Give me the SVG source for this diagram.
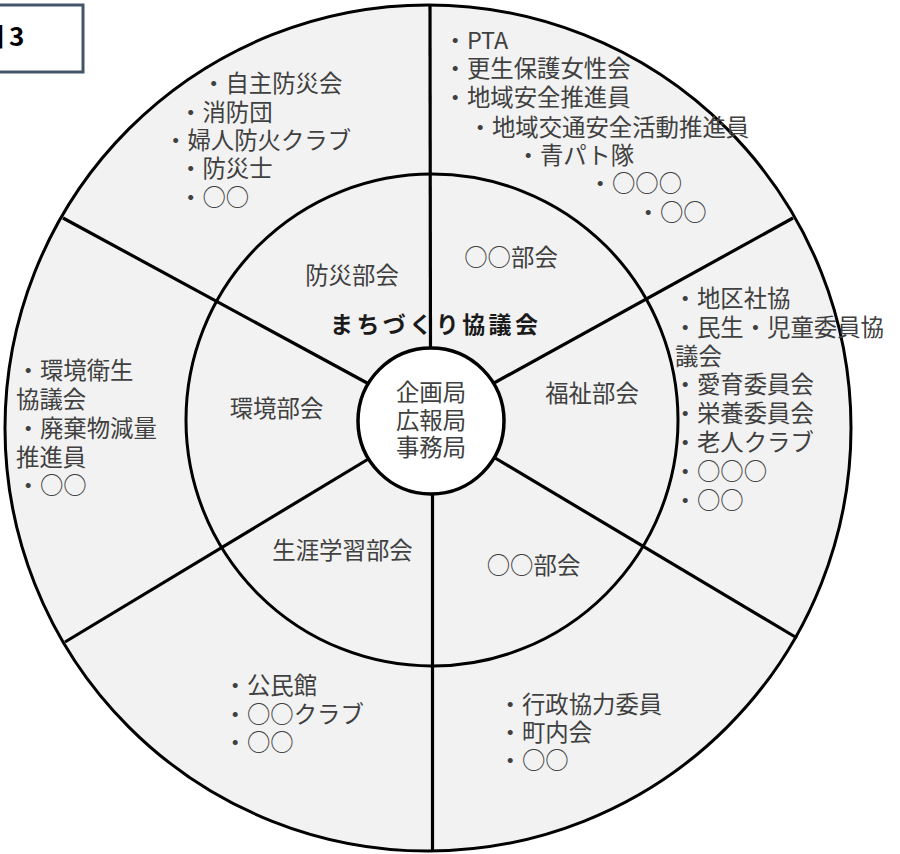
<svg xmlns="http://www.w3.org/2000/svg" width="900" height="854" viewBox="0 0 900 854">
<style>
.t{font-family:"Noto Sans CJK JP","Noto Sans",sans-serif;font-size:23.4px;fill:#404040}
.c{text-anchor:middle}
.ring{stroke:#000;stroke-width:3}
.sp{stroke:#000;stroke-width:3.2;stroke-linecap:butt}
</style>
<rect width="900" height="854" fill="#fff"/>
<g id="outer-ring">
<circle class="ring" cx="428" cy="428" r="423" fill="#f2f2f2"/>
</g>
<g id="connectors">
<line class="sp" x1="430" y1="5" x2="430.5" y2="360"/>
<line class="sp" x1="63" y1="218" x2="380" y2="390"/>
<line class="sp" x1="793" y1="218" x2="485" y2="388"/>
<line class="sp" x1="65" y1="642" x2="380" y2="452"/>
<line class="sp" x1="797" y1="638" x2="485" y2="452"/>
<line class="sp" x1="432.5" y1="480" x2="432.5" y2="851"/>
</g>
<g id="middle-ring">
<circle class="ring" cx="432" cy="420" r="246" fill="none"/>
</g>
<g id="center">
<circle cx="431" cy="421" r="73" fill="#fff" stroke="#000" stroke-width="3.5"/>
<text class="t c" x="431" y="401">企画局</text>
<text class="t c" x="431" y="429">広報局</text>
<text class="t c" x="431" y="456">事務局</text>
</g>
<g id="title">
<text x="434" y="333" text-anchor="middle" font-family="'Noto Sans CJK JP','Noto Sans',sans-serif" font-size="23" font-weight="bold" fill="#1a1a1a" textLength="208" lengthAdjust="spacing">まちづくり協議会</text>
</g>
<g id="bousai">
<text class="t c" x="352" y="284">防災部会</text>
<text class="t" x="202" y="92">・自主防災会</text>
<text class="t" x="179" y="121">・消防団</text>
<text class="t" x="164" y="149">・婦人防火クラブ</text>
<text class="t" x="179" y="177">・防災士</text>
<text class="t" x="179" y="206">・○○</text>
</g>
<g id="marumaru-top">
<text class="t c" x="511" y="266">○○部会</text>
<text class="t" x="443.5" y="49">・PTA</text>
<text class="t" x="443.5" y="77">・更生保護女性会</text>
<text class="t" x="443.5" y="106">・地域安全推進員</text>
<text class="t" x="468.5" y="136">・地域交通安全活動推進員</text>
<text class="t" x="516.5" y="164">・青パト隊</text>
<text class="t" x="588.5" y="192">・○○○</text>
<text class="t" x="636.5" y="221">・○○</text>
</g>
<g id="fukushi">
<text class="t c" x="592" y="402">福祉部会</text>
<text class="t" x="673.5" y="307">・地区社協</text>
<text class="t" x="673.5" y="336">・民生・児童委員協</text>
<text class="t" x="675" y="365">議会</text>
<text class="t" x="673.5" y="393">・愛育委員会</text>
<text class="t" x="673.5" y="422">・栄養委員会</text>
<text class="t" x="673.5" y="451">・老人クラブ</text>
<text class="t" x="673.5" y="480">・○○○</text>
<text class="t" x="673.5" y="509">・○○</text>
</g>
<g id="kankyou">
<text class="t c" x="276.5" y="417">環境部会</text>
<text class="t" x="16.5" y="379">・環境衛生</text>
<text class="t" x="16" y="408">協議会</text>
<text class="t" x="16.5" y="437">・廃棄物減量</text>
<text class="t" x="16" y="466">推進員</text>
<text class="t" x="16.5" y="494">・○○</text>
</g>
<g id="shougai">
<text class="t c" x="342.5" y="559">生涯学習部会</text>
<text class="t" x="223.5" y="694">・公民館</text>
<text class="t" x="223.5" y="723">・○○クラブ</text>
<text class="t" x="223.5" y="751">・○○</text>
</g>
<g id="marumaru-bottom">
<text class="t c" x="533.5" y="574">○○部会</text>
<text class="t" x="498.5" y="713">・行政協力委員</text>
<text class="t" x="498.5" y="741">・町内会</text>
<text class="t" x="498.5" y="769">・○○</text>
</g>
<g id="figure-label">
<rect x="-10" y="5" width="93" height="67" fill="#fff" stroke="#44546a" stroke-width="3"/>
<text font-family="'Noto Sans CJK JP','Noto Sans',sans-serif" font-size="26" font-weight="bold" fill="#000" y="46"><tspan x="-22">図</tspan><tspan x="9">3</tspan></text>
</g>
</svg>
